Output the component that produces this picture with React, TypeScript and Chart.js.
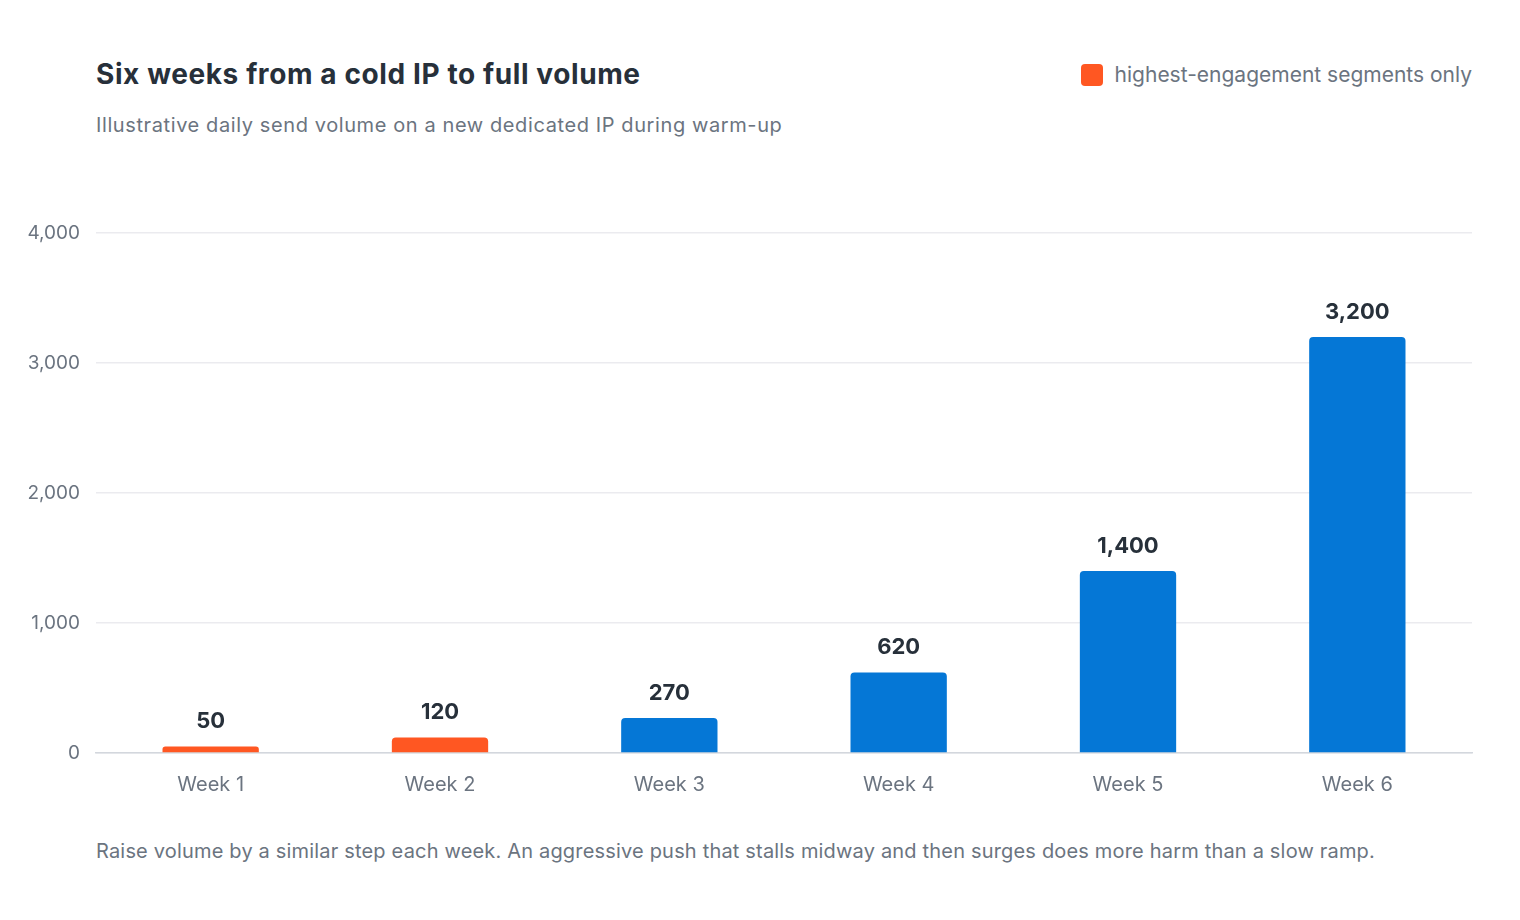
import React, { useEffect, useRef } from "react";
import { Chart, registerables } from "chart.js";

Chart.register(...registerables);

const categories = ["Week 1", "Week 2", "Week 3", "Week 4", "Week 5", "Week 6"];
const volumes = [50, 120, 270, 620, 1400, 3200];
const highEngagementOnly = [true, true, false, false, false, false];
const yTicks = [0, 1000, 2000, 3000, 4000];

const FONT = "Inter, 'Noto Sans', sans-serif";
const ORANGE = "#FF5722";
const BLUE = "#0577D6";
const DARK = "#27303a";
const GREY = "#6b7480";

const valueLabels = {
  id: "valueLabels",
  afterDatasetsDraw(chart: any) {
    const ctx = chart.ctx;
    const meta = chart.getDatasetMeta(0);
    ctx.save();
    ctx.font = `700 22px ${FONT}`;
    ctx.fillStyle = DARK;
    ctx.textAlign = "center";
    ctx.textBaseline = "middle";
    meta.data.forEach((bar: any, i: number) => {
      ctx.fillText(volumes[i].toLocaleString("en-US"), bar.x, bar.y - 25);
    });
    ctx.restore();
  },
};

export default function App() {
  const ref = useRef<HTMLCanvasElement | null>(null);
  useEffect(() => {
    if (!ref.current) return;
    const chart = new Chart(ref.current, {
      type: "bar",
      data: {
        labels: categories,
        datasets: [
          {
            data: volumes,
            backgroundColor: highEngagementOnly.map((h) => (h ? ORANGE : BLUE)),
            borderRadius: { topLeft: 4, topRight: 4, bottomLeft: 0, bottomRight: 0 },
            borderSkipped: false,
            categoryPercentage: 1,
            barPercentage: 0.42,
          },
        ],
      },
      options: {
        animation: false,
        responsive: false,
        maintainAspectRatio: false,
        layout: { padding: { top: 33, right: 48, bottom: 0, left: 0 } },
        plugins: { legend: { display: false }, tooltip: { enabled: false } },
        scales: {
          x: {
            grid: { display: false, drawTicks: false },
            border: { display: true, color: "#d3d7dd", width: 1.5 },
            ticks: { color: GREY, font: { family: FONT, size: 20 }, padding: 20 },
          },
          y: {
            min: 0,
            max: 4000,
            afterFit: (scale: any) => {
              scale.width = 96;
            },
            afterBuildTicks: (scale: any) => {
              scale.ticks = yTicks.map((v) => ({ value: v }));
            },
            grid: { color: "#ebebef", drawTicks: false, lineWidth: 1.5 },
            border: { display: false },
            ticks: {
              color: GREY,
              font: { family: FONT, size: 19 },
              padding: 16,
              callback: (v: any) => Number(v).toLocaleString("en-US"),
            },
          },
        },
      },
      plugins: [valueLabels],
    });
    return () => chart.destroy();
  }, []);

  return (
    <div
      style={{
        position: "absolute",
        left: 0,
        top: 0,
        width: 1520,
        height: 920,
        background: "#fff",
        fontFamily: FONT,
      }}
    >
      <div
        style={{
          position: "absolute",
          left: 96,
          top: 57,
          fontSize: 28,
          fontWeight: 700,
          color: DARK,
          letterSpacing: 0.6,
        }}
      >
        Six weeks from a cold IP to full volume
      </div>
      <div
        style={{ position: "absolute", left: 96, top: 113, fontSize: 20, color: GREY, letterSpacing: 0.6 }}
      >
        Illustrative daily send volume on a new dedicated IP during warm-up
      </div>
      <div
        style={{
          position: "absolute",
          right: 48,
          top: 62,
          display: "flex",
          alignItems: "center",
          fontSize: 21,
          color: GREY,
        }}
      >
        <span
          style={{
            display: "inline-block",
            width: 22,
            height: 22,
            borderRadius: 4,
            background: ORANGE,
            marginRight: 12,
          }}
        />
        highest-engagement segments only
      </div>
      <canvas
        ref={ref}
        width={1520}
        height={617}
        style={{ position: "absolute", left: 0, top: 200, width: 1520, height: 617 }}
      />
      <div
        style={{ position: "absolute", left: 96, top: 839, fontSize: 20, color: GREY, letterSpacing: 0.18 }}
      >
        Raise volume by a similar step each week. An aggressive push that stalls midway and then surges does more harm than a slow ramp.
      </div>
    </div>
  );
}
